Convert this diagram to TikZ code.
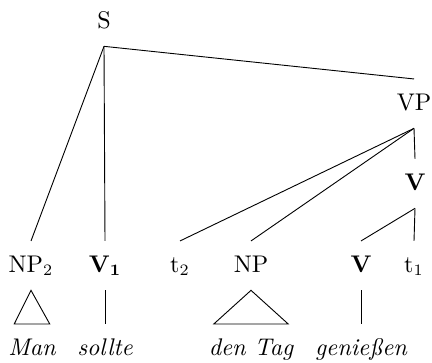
\documentclass[tikz,border=0pt]{standalone}
\usepackage{tikz}
\usepackage{amsmath}
\usetikzlibrary{positioning,calc}

\begin{document}
\begin{tikzpicture}[x=0.44pt,y=-0.44pt,font=\fontsize{10.6}{12}\selectfont,
    cat/.style={anchor=base,inner sep=0pt,text height=1.5ex,text depth=0.2ex,outer ysep=7.2pt,outer xsep=0pt},
    word/.style={cat,font=\fontsize{10.6}{12}\selectfont\itshape}]
  \useasboundingbox (0,0) rectangle (432,362);
  % categories
  \node[cat] (s) at (104,28) {S};
  \node[cat] (vp) at (414,110) {VP};
  \node[cat] (vbar) at (415,190) {\textbf{V}};
  \node[cat] (np2) at (31,272) {NP$_2$};
  \node[cat] (v1) at (105,272) {\textbf{V}$_{\mathbf{1}}$};
  \node[cat] (t2) at (180,272) {t$_2$};
  \node[cat] (np) at (251,272) {NP};
  \node[cat] (v) at (361,272) {\textbf{V}};
  \node[cat] (t1) at (414,272) {t$_1$};
  % words
  \node[word] (man) at (32,355) {Man};
  \node[word] (sollte) at (105,355) {sollte};
  \node[word] (dentag) at (251,355) {den Tag};
  \node[word] (geniessen) at (361,355) {genießen};
  % branches
  \draw (s.south) -- (np2.north);
  \draw (s.south) -- (v1.north);
  \draw (s.south) -- (vp.north);
  \draw (vp.south) -- (t2.north);
  \draw (vp.south) -- (np.north);
  \draw (vp.south) -- (vbar.north);
  \draw (vbar.south) -- (v.north);
  \draw (vbar.south) -- (t1.north);
  \draw (v1.south) -- (sollte.north);
  \draw (v.south) -- (geniessen.north);
  % triangles
  \draw (np2.south) -- ($(man.north west)+(6,0)$) -- ($(man.north east)+(-6,0)$) -- cycle;
  \draw (np.south) -- ($(dentag.north west)+(5,0)$) -- ($(dentag.north east)+(-5,0)$) -- cycle;
\end{tikzpicture}
\end{document}
